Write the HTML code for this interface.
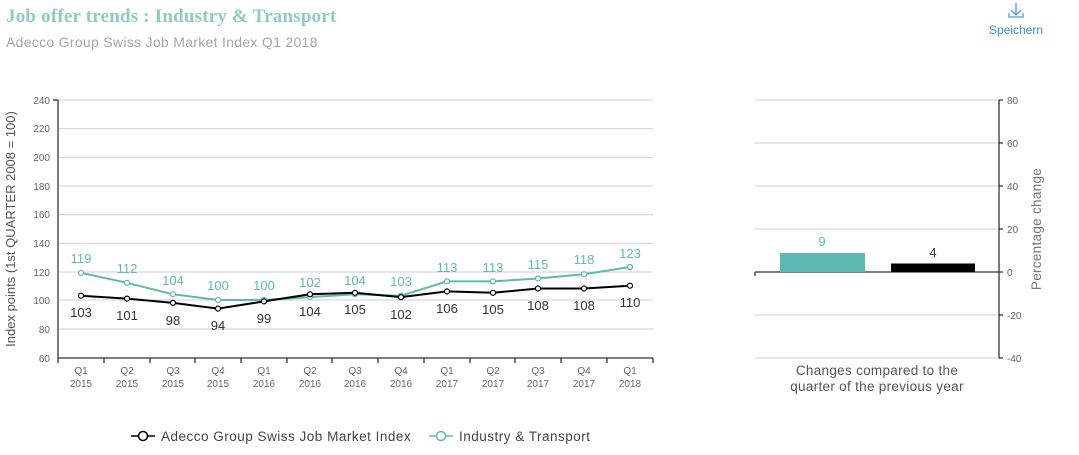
<!DOCTYPE html>
<html><head><meta charset="utf-8"><style>
body{margin:0;width:1079px;height:450px;background:#fff;overflow:hidden;font-family:"Liberation Sans",sans-serif}
</style></head><body>
<svg width="1079" height="450" xmlns="http://www.w3.org/2000/svg" font-family="Liberation Sans, sans-serif">
<text x="6" y="22" font-family="Liberation Serif, serif" font-weight="bold" font-size="19" fill="#8ecbc4" letter-spacing="0.2">Job offer trends : Industry &amp; Transport</text>
<text x="6" y="47" font-size="14" fill="#a6a6a6" letter-spacing="0.3">Adecco Group Swiss Job Market Index Q1 2018</text>
<path d="M1016 3v12M1011 10l5 5 5-5M1009 13v4h14v-4" stroke="#4a9fd6" stroke-width="1.3" fill="none"/>
<text x="1016" y="34" font-size="12" fill="#3a8fcc" text-anchor="middle">Speichern</text>
<g stroke="#cfcfcf" stroke-width="1">
<line x1="58" y1="100" x2="653" y2="100"/><line x1="58" y1="128.7" x2="653" y2="128.7"/><line x1="58" y1="157.3" x2="653" y2="157.3"/><line x1="58" y1="186" x2="653" y2="186"/><line x1="58" y1="214.7" x2="653" y2="214.7"/><line x1="58" y1="243.3" x2="653" y2="243.3"/><line x1="58" y1="272" x2="653" y2="272"/><line x1="58" y1="300" x2="653" y2="300"/><line x1="58" y1="329" x2="653" y2="329"/>
<line x1="755" y1="100" x2="999" y2="100"/><line x1="755" y1="143" x2="999" y2="143"/><line x1="755" y1="186" x2="999" y2="186"/><line x1="755" y1="229" x2="999" y2="229"/><line x1="755" y1="315" x2="999" y2="315"/><line x1="755" y1="358" x2="999" y2="358"/>
</g>
<g stroke="#333" stroke-width="1.3" fill="none">
<line x1="58" y1="100" x2="58" y2="358"/><line x1="53" y1="100" x2="58" y2="100"/><line x1="58" y1="358" x2="653" y2="358"/>
<path d="M58 358v5M104 358v5M150 358v5M195 358v5M241 358v5M287 358v5M332 358v5M378 358v5M424 358v5M470 358v5M515 358v5M561 358v5M607 358v5M653 358v5"/>
<line x1="999" y1="100" x2="999" y2="358"/><path d="M999 100h4M999 143h4M999 186h4M999 229h4M999 272h4M999 315h4M999 358h4"/>
<line x1="755" y1="272" x2="999" y2="272"/><line x1="755" y1="272" x2="755" y2="276"/>
</g>
<g font-size="10" fill="#666" text-anchor="end">
<text x="50" y="104">240</text><text x="50" y="132">220</text><text x="50" y="161">200</text><text x="50" y="190">180</text><text x="50" y="218">160</text><text x="50" y="247">140</text><text x="50" y="276">120</text><text x="50" y="304">100</text><text x="50" y="333">80</text><text x="50" y="362">60</text>
</g>
<g font-size="10" fill="#666">
<text x="1007" y="104">80</text><text x="1007" y="147">60</text><text x="1007" y="190">40</text><text x="1007" y="233">20</text><text x="1007" y="276">0</text><text x="1007" y="319">-20</text><text x="1007" y="362">-40</text>
</g>
<text transform="translate(15,229) rotate(-90)" font-size="13" fill="#555" text-anchor="middle">Index points (1st QUARTER 2008 = 100)</text>
<text transform="translate(1041,229) rotate(-90)" font-size="13.5" fill="#777" text-anchor="middle" letter-spacing="0.3">Percentage change</text>
<g font-size="10" fill="#666" text-anchor="middle">
<text x="81" y="374">Q1</text><text x="81" y="387">2015</text>
<text x="127" y="374">Q2</text><text x="127" y="387">2015</text>
<text x="173" y="374">Q3</text><text x="173" y="387">2015</text>
<text x="218" y="374">Q4</text><text x="218" y="387">2015</text>
<text x="264" y="374">Q1</text><text x="264" y="387">2016</text>
<text x="310" y="374">Q2</text><text x="310" y="387">2016</text>
<text x="355" y="374">Q3</text><text x="355" y="387">2016</text>
<text x="401" y="374">Q4</text><text x="401" y="387">2016</text>
<text x="447" y="374">Q1</text><text x="447" y="387">2017</text>
<text x="493" y="374">Q2</text><text x="493" y="387">2017</text>
<text x="538" y="374">Q3</text><text x="538" y="387">2017</text>
<text x="584" y="374">Q4</text><text x="584" y="387">2017</text>
<text x="630" y="374">Q1</text><text x="630" y="387">2018</text>
</g>
<polyline fill="none" stroke="#5fb9b1" stroke-width="2" points="81,272.8 127,282.8 173,294.3 218,300 264,300 310,297.1 355,294.3 401,295.7 447,281.4 493,281.4 538,278.5 584,274.2 630,267"/>
<polyline fill="none" stroke="#000" stroke-width="2" points="81,295.7 127,298.6 173,302.9 218,308.6 264,301.4 310,294.3 355,292.8 401,297.1 447,291.4 493,292.8 538,288.5 584,288.5 630,285.7"/>
<g fill="#fff" stroke="#5fb9b1" stroke-width="1.2">
<circle cx="81" cy="272.8" r="2.5"/><circle cx="127" cy="282.8" r="2.5"/><circle cx="173" cy="294.3" r="2.5"/><circle cx="218" cy="300" r="2.5"/><circle cx="264" cy="300" r="2.5"/><circle cx="310" cy="297.1" r="2.5"/><circle cx="355" cy="294.3" r="2.5"/><circle cx="401" cy="295.7" r="2.5"/><circle cx="447" cy="281.4" r="2.5"/><circle cx="493" cy="281.4" r="2.5"/><circle cx="538" cy="278.5" r="2.5"/><circle cx="584" cy="274.2" r="2.5"/><circle cx="630" cy="267" r="2.5"/>
</g>
<g fill="#fff" stroke="#000" stroke-width="1.2">
<circle cx="81" cy="295.7" r="2.5"/><circle cx="127" cy="298.6" r="2.5"/><circle cx="173" cy="302.9" r="2.5"/><circle cx="218" cy="308.6" r="2.5"/><circle cx="264" cy="301.4" r="2.5"/><circle cx="310" cy="294.3" r="2.5"/><circle cx="355" cy="292.8" r="2.5"/><circle cx="401" cy="297.1" r="2.5"/><circle cx="447" cy="291.4" r="2.5"/><circle cx="493" cy="292.8" r="2.5"/><circle cx="538" cy="288.5" r="2.5"/><circle cx="584" cy="288.5" r="2.5"/><circle cx="630" cy="285.7" r="2.5"/>
</g>
<g font-size="13" fill="#5fb9b1" text-anchor="middle">
<text x="81" y="263">119</text><text x="127" y="273">112</text><text x="173" y="285">104</text><text x="218" y="290">100</text><text x="264" y="290">100</text><text x="310" y="287">102</text><text x="355" y="285">104</text><text x="401" y="286">103</text><text x="447" y="272">113</text><text x="493" y="272">113</text><text x="538" y="269">115</text><text x="584" y="264">118</text><text x="630" y="258">123</text>
</g>
<g font-size="13" fill="#333" text-anchor="middle">
<text x="81" y="317">103</text><text x="127" y="320">101</text><text x="173" y="325">98</text><text x="218" y="330">94</text><text x="264" y="323">99</text><text x="310" y="316">104</text><text x="355" y="314">105</text><text x="401" y="319">102</text><text x="447" y="313">106</text><text x="493" y="314">105</text><text x="538" y="310">108</text><text x="584" y="310">108</text><text x="630" y="307">110</text>
</g>
<rect x="780" y="253" width="85" height="19" fill="#5cb8b2"/>
<rect x="891" y="263.5" width="84" height="8.5" fill="#000"/>
<text x="822" y="246" font-size="13" fill="#5fb9b1" text-anchor="middle">9</text>
<text x="933" y="257" font-size="13" fill="#333" text-anchor="middle">4</text>
<text x="877" y="375" font-size="13.5" fill="#555" text-anchor="middle" letter-spacing="0.3">Changes compared to the</text>
<text x="877" y="391" font-size="13.5" fill="#555" text-anchor="middle" letter-spacing="0.3">quarter of the previous year</text>
<line x1="131" y1="436" x2="155" y2="436" stroke="#000" stroke-width="1.5"/><circle cx="143" cy="436" r="4.5" fill="#fff" stroke="#000" stroke-width="1.5"/>
<text x="161" y="441" font-size="13.5" fill="#444" letter-spacing="0.5">Adecco Group Swiss Job Market Index</text>
<line x1="429" y1="436" x2="453" y2="436" stroke="#5fb9b1" stroke-width="1.5"/><circle cx="441" cy="436" r="4.5" fill="#fff" stroke="#5fb9b1" stroke-width="1.5"/>
<text x="459" y="441" font-size="13.5" fill="#444" letter-spacing="0.5">Industry &amp; Transport</text>
</svg>
</body></html>
